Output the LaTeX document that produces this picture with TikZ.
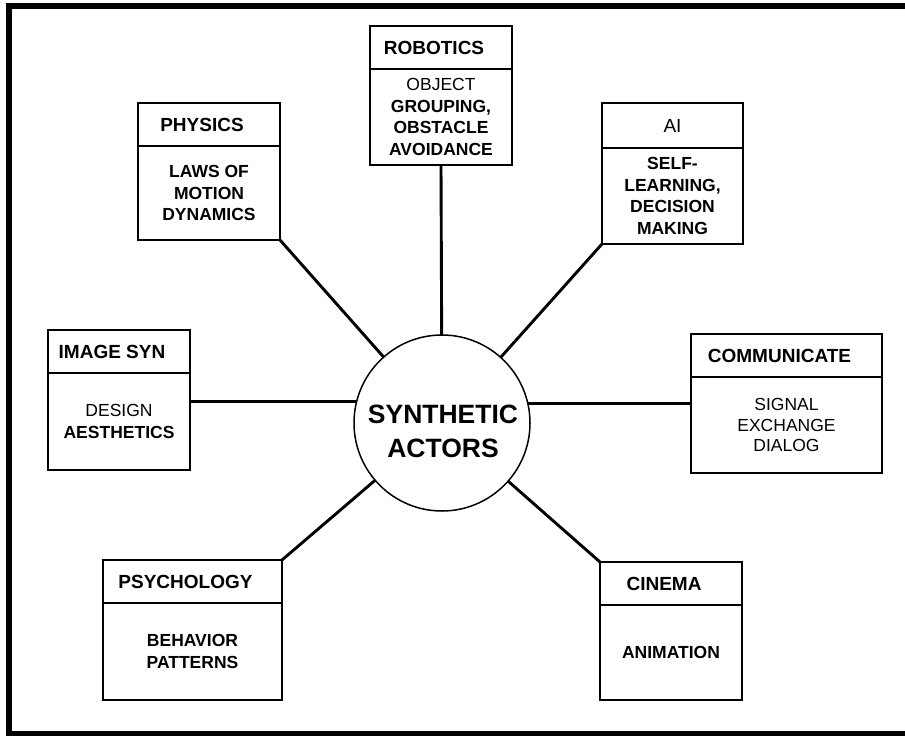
\documentclass[tikz,border=0pt]{standalone}
\usepackage{fontspec}
\setmainfont{Liberation Sans}
\newcommand\hs{\hspace*{-14pt}}
\begin{document}
\begin{tikzpicture}[x=1pt,y=-1pt,
  box/.style={draw,line width=1.6pt,rectangle,inner sep=0pt,outer sep=0pt},
  hdr/.style={box,font=\fontsize{19}{21}\selectfont\bfseries},
  bdy/.style={box,align=center,font=\fontsize{17.5}{21.5}\selectfont\bfseries},
  conn/.style={line width=2.9pt},
  hub/.style={circle,draw,line width=1.5pt,minimum size=176pt,inner sep=0pt,outer sep=0pt},
  hubtext/.style={align=center,font=\fontsize{26.5}{34}\selectfont\bfseries}]
\useasboundingbox (0,0) rectangle (905,736);
\draw[line width=6pt] (905,6) -- (9,6) -- (9,733.5) -- (905,733.5);

% hub
\node[hub] (c) at (442,423) {};
\node[hubtext] (ct) at (443,431) {SYNTHETIC\\ACTORS};

% PHYSICS
\node[hdr,minimum width=142pt,minimum height=43pt,anchor=north west] (ph) at (138,103) {\hs PHYSICS};
\node[bdy,minimum width=142pt,minimum height=94pt,anchor=north] (pb) at (ph.south) {LAWS OF\\MOTION\\DYNAMICS};

% ROBOTICS
\node[hdr,minimum width=142pt,minimum height=43pt,anchor=north west] (rh) at (370,26) {\hs ROBOTICS};
\node[bdy,minimum width=142pt,minimum height=96pt,anchor=north] (rb) at (rh.south) {{\mdseries OBJECT}\\GROUPING,\\OBSTACLE\\AVOIDANCE};

% AI
\node[hdr,minimum width=141pt,minimum height=45pt,anchor=north west] (ah) at (602,103) {\mdseries AI};
\node[bdy,minimum width=141pt,minimum height=96pt,anchor=north] (ab) at (ah.south) {SELF-\\LEARNING,\\DECISION\\MAKING};

% IMAGE SYN
\node[hdr,minimum width=142pt,minimum height=43pt,anchor=north west] (ih) at (48,330) {\hs IMAGE SYN};
\node[bdy,minimum width=142pt,minimum height=97pt,anchor=north] (ib) at (ih.south) {{\mdseries DESIGN}\\AESTHETICS};

% COMMUNICATE
\node[hdr,minimum width=191pt,minimum height=43pt,anchor=north west] (cmh) at (691,334) {\hs COMMUNICATE};
\node[bdy,minimum width=191pt,minimum height=96pt,anchor=north,font=\fontsize{17.5}{20.5}\selectfont\mdseries] (cmb) at (cmh.south) {SIGNAL\\EXCHANGE\\DIALOG};

% PSYCHOLOGY
\node[hdr,minimum width=179pt,minimum height=43pt,anchor=north west] (sh) at (103,560) {\hs PSYCHOLOGY};
\node[bdy,minimum width=179pt,minimum height=97pt,anchor=north] (sb) at (sh.south) {BEHAVIOR\\PATTERNS};

% CINEMA
\node[hdr,minimum width=142pt,minimum height=43pt,anchor=north west] (nh) at (600,562) {\hs CINEMA};
\node[bdy,minimum width=142pt,minimum height=95pt,anchor=north] (nb) at (nh.south) {ANIMATION};

% connectors
\draw[conn] (rb.south) -- (c);
\draw[conn] (pb.south east) -- (c);
\draw[conn] (ab.south west) -- (c);
\draw[conn] (ib.east |- c.166) -- (c.166);
\draw[conn] (c.13) -- (cmb.west |- c.13);
\draw[conn] (sh.north east) -- (c);
\draw[conn] (nh.north west) -- (c);
\end{tikzpicture}
\end{document}
